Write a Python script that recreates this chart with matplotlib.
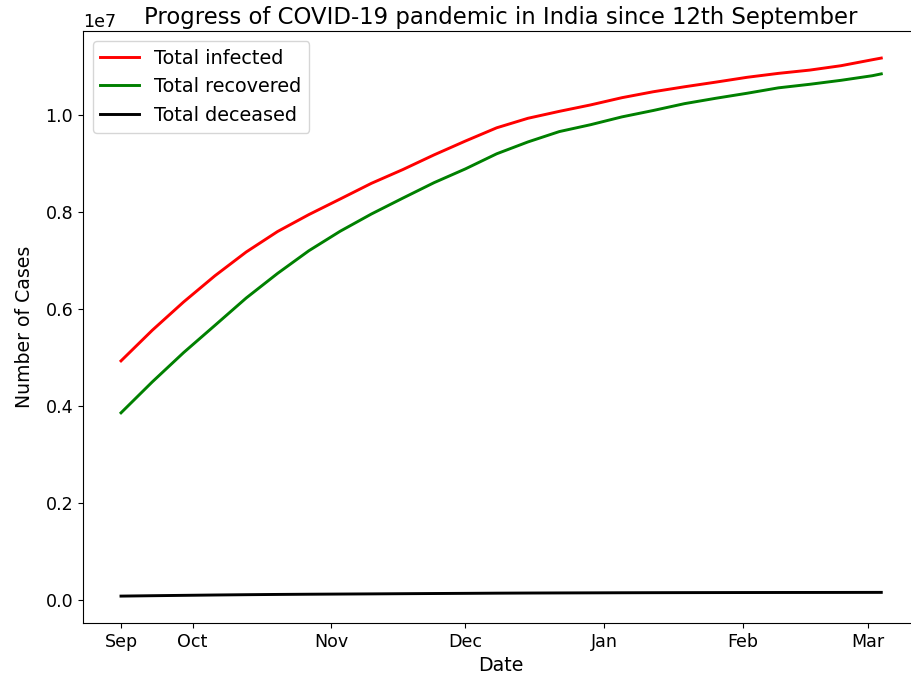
import pandas as pd
import matplotlib
matplotlib.use("Agg")
import matplotlib.pyplot as plt

# Weekly readings from the chart (cumulative counts)
dates = pd.to_datetime([
    "2020-09-15", "2020-09-22", "2020-09-29", "2020-10-06", "2020-10-13",
    "2020-10-20", "2020-10-27", "2020-11-03", "2020-11-10", "2020-11-17",
    "2020-11-24", "2020-12-01", "2020-12-08", "2020-12-15", "2020-12-22",
    "2020-12-29", "2021-01-05", "2021-01-12", "2021-01-19", "2021-01-26",
    "2021-02-02", "2021-02-09", "2021-02-16", "2021-02-23", "2021-03-02",
    "2021-03-04",
])
infected = [
    4930236, 5562663, 6145291, 6685082, 7175880,
    7597063, 7946429, 8267623, 8591730, 8874290,
    9177840, 9462809, 9735850, 9932547, 10075116,
    10207871, 10356844, 10479179, 10581837, 10677710,
    10777284, 10858371, 10925710, 11016434, 11139516,
    11173761,
]
recovered = [
    3859399, 4497867, 5101397, 5662490, 6227295,
    6733328, 7201070, 7603121, 7959406, 8285381,
    8604955, 8888595, 9200000, 9445000, 9658000,
    9800000, 9961000, 10092909, 10234000, 10345000,
    10448406, 10560000, 10633025, 10715204, 10810000,
    10848000,
]
deceased = [
    80776, 88935, 96318, 103569, 109856,
    115197, 119502, 123097, 126611, 130519,
    134218, 137621, 141360, 144096, 146111,
    147901, 149850, 151327, 152556, 153587,
    154486, 155360, 155913, 156567, 157385,
    157656,
]

tick_dates = pd.to_datetime([
    "2020-09-15", "2020-10-01", "2020-11-01", "2020-12-01",
    "2021-01-01", "2021-02-01", "2021-03-01",
])
tick_labels = ["Sep", "Oct", "Nov", "Dec", "Jan", "Feb", "Mar"]

plt.rcParams["font.size"] = 12.6

fig = plt.figure(figsize=(9.12, 6.85), dpi=100)
ax = fig.add_axes([0.091, 0.0905, 0.917, 0.864])

ax.plot(dates, infected, color="red", linewidth=2.1, label="Total infected")
ax.plot(dates, recovered, color="green", linewidth=2.1, label="Total recovered")
ax.plot(dates, deceased, color="black", linewidth=2.1, label="Total deceased")

ax.set_xticks(tick_dates)
ax.set_xticklabels(tick_labels)
ax.set_xlabel("Date", fontsize=13.6)
ax.set_ylabel("Number of Cases", fontsize=13.6, labelpad=8)
ax.set_title("Progress of COVID-19 pandemic in India since 12th September",
             fontsize=16.4, pad=5)
ax.legend(loc="upper left", fontsize=13.9)
ax.spines["right"].set_visible(False)

fig.savefig("out.png", dpi=100)
